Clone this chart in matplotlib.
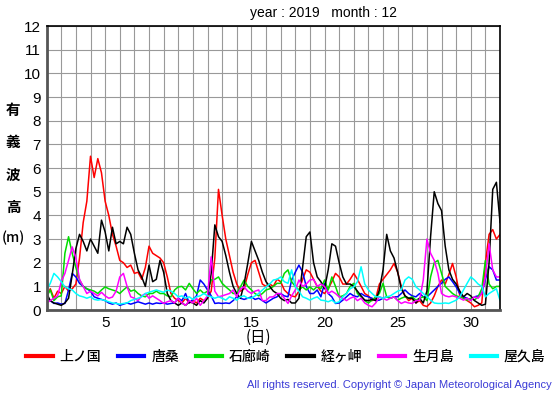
import matplotlib
matplotlib.use('Agg')
import matplotlib.pyplot as plt
import numpy as np

# significant wave height, December 2019, sampled every 6 hours (day 1.00 .. 32.00)
days = np.arange(1, 32.01, 0.25)

kaminokuni = [0.6, 0.9, 0.5, 0.8,  0.7, 1.0, 0.8, 0.9,  1.1, 2.2, 3.7, 4.6,  6.5, 5.6, 6.4, 5.8,
              4.6, 4.0, 3.2, 2.7,  2.1, 2.0, 1.8, 1.9,  1.55, 1.6, 1.3, 1.8,  2.7, 2.4, 2.3, 2.2,
              2.0, 1.4, 0.7, 0.5,  0.4, 0.3, 0.5, 0.3,  0.4, 0.3, 0.5, 0.4,  0.5, 0.8, 2.2, 5.1,
              4.0, 3.0, 2.3, 1.6,  1.1, 0.8, 0.9, 1.5,  2.0, 2.1, 1.6, 1.1,  1.0, 1.1, 1.0, 1.3,
              1.2, 0.85, 0.7, 0.6,  0.56, 0.8, 1.3, 1.7,  1.6, 1.3, 1.0, 0.8,  0.7, 0.9, 1.2, 1.55,
              1.4, 1.1, 1.1, 1.3,  1.55, 1.3, 1.0, 0.7,  0.6, 0.4, 0.5, 1.1,  1.3, 1.5, 1.7, 1.97,
              1.6, 1.0, 0.6, 0.4,  0.5, 0.3, 0.4, 0.2,  0.15, 0.3, 0.6, 1.0,  1.27, 1.1, 1.5, 1.97,
              1.4, 0.6, 0.5, 0.4,  0.3, 0.14, 0.2, 0.3,  2.0, 3.2, 3.4, 3.0,  3.2]
karakuwa = [0.56, 0.4, 0.28, 0.3,  0.25, 0.28, 0.85, 1.55,  1.4, 1.13, 1.0, 0.9,  0.8, 0.56, 0.5, 0.45,
            0.4, 0.3, 0.25, 0.3,  0.2, 0.25, 0.3, 0.25,  0.3, 0.35, 0.3, 0.25,  0.3, 0.25, 0.3, 0.28,
            0.3, 0.25, 0.28, 0.3,  0.5, 0.4, 0.7, 0.3,  0.45, 0.6, 1.27, 1.1,  0.85, 0.6, 0.28, 0.3,
            0.28, 0.3, 0.28, 0.4,  0.56, 0.5, 0.45, 0.5,  0.56, 0.45, 0.5, 0.4,  0.3, 0.4, 0.5, 0.56,
            0.7, 0.6, 0.56, 1.27,  1.6, 1.9, 1.6, 1.0,  0.7, 0.7, 0.85, 0.56,  1.13, 0.7, 0.56, 0.28,
            0.3, 0.42, 0.56, 0.7,  0.6, 0.56, 0.7, 0.6,  0.56, 0.5, 0.4, 0.42,  0.5, 0.56, 0.5, 0.56,
            0.56, 0.7, 0.85, 0.7,  0.6, 0.56, 0.7, 0.56,  0.56, 0.7, 0.85, 1.0,  1.13, 1.3, 1.4, 1.2,
            0.98, 0.7, 0.56, 0.5,  0.42, 0.56, 0.6, 0.7,  1.3, 1.83, 1.7, 1.27,  1.27]
irozaki = [0.56, 0.85, 0.4, 0.56,  0.6, 2.4, 3.1, 2.4,  1.8, 1.27, 1.0, 0.9,  0.85, 0.8, 0.7, 0.85,
           0.98, 0.9, 0.85, 0.8,  0.7, 0.85, 0.98, 0.8,  0.85, 0.7, 0.6, 0.56,  0.7, 0.7, 0.8, 0.7,
           0.7, 0.6, 0.56, 0.85,  0.98, 1.0, 0.85, 1.13,  0.9, 0.7, 0.85, 0.7,  0.8, 1.27, 1.3, 1.4,
           1.13, 0.98, 0.85, 0.7,  0.7, 0.98, 1.27, 1.0,  0.85, 0.7, 0.6, 0.7,  0.85, 0.9, 1.0, 1.13,
           1.13, 1.55, 1.7, 1.2,  1.0, 0.85, 0.98, 0.85,  0.98, 0.85, 1.0, 0.9,  1.27, 0.85, 1.4, 1.0,
           0.56, 0.6, 0.7, 1.0,  1.13, 0.7, 0.56, 0.4,  0.3, 0.42, 0.56, 0.7,  1.13, 0.56, 0.5, 0.56,
           0.42, 0.5, 0.56, 0.5,  0.56, 0.42, 0.5, 0.56,  0.4, 1.4, 2.0, 2.1,  1.55, 1.0, 0.85, 0.7,
           0.6, 0.56, 0.5, 0.42,  0.5, 0.42, 0.56, 0.9,  2.1, 1.1, 0.9, 1.0,  1.0]
kyougamisaki = [0.7, 0.4, 0.3, 0.25,  0.2, 0.3, 0.5, 1.5,  2.6, 3.2, 2.9, 2.5,  3.0, 2.7, 2.4, 3.8,
                3.3, 2.5, 3.5, 2.8,  2.9, 2.8, 3.5, 3.2,  2.4, 1.7, 1.4, 1.0,  1.9, 1.2, 1.3, 2.1,
                1.6, 0.7, 0.4, 0.3,  0.2, 0.3, 0.2, 0.35,  0.3, 0.2, 0.4, 0.3,  0.5, 1.55, 3.6, 3.1,
                2.9, 2.3, 1.6, 1.0,  0.7, 0.5, 1.1, 1.97,  2.9, 2.5, 2.1, 1.6,  1.2, 1.0, 0.8, 0.7,
                0.5, 0.4, 0.45, 0.3,  0.3, 0.5, 1.8, 3.1,  3.3, 2.0, 1.4, 1.2,  0.9, 1.7, 2.8, 2.7,
                2.0, 1.4, 1.1, 1.1,  1.0, 0.8, 0.6, 0.42,  0.4, 0.45, 0.4, 0.85,  1.7, 3.2, 2.5, 2.2,
                1.6, 0.9, 0.6, 0.5,  0.5, 0.3, 0.5, 0.3,  0.8, 3.1, 5.0, 4.5,  4.2, 2.7, 1.7, 1.3,
                1.1, 0.8, 0.56, 0.7,  0.6, 0.4, 0.3, 0.2,  0.25, 2.0, 5.1, 5.4,  3.7]
ikitsukishima = [0.3, 0.4, 0.5, 0.6,  1.2, 1.55, 2.1, 2.67,  2.2, 1.3, 1.0, 0.7,  0.8, 0.7, 0.6, 0.75,
                 0.6, 0.5, 0.55, 0.8,  1.4, 1.55, 1.0, 0.56,  0.5, 0.4, 0.6, 0.7,  0.5, 0.6, 0.5, 0.4,
                 0.28, 0.35, 0.4, 0.3,  0.5, 0.3, 0.2, 0.4,  0.3, 0.5, 0.2, 0.4,  0.6, 2.25, 0.8, 0.56,
                 0.6, 0.65, 0.7, 0.85,  0.56, 0.9, 0.98, 0.8,  0.7, 0.8, 0.85, 0.4,  0.4, 0.55, 0.56, 0.7,
                 0.7, 0.5, 0.28, 0.6,  0.85, 1.27, 1.0, 1.1,  1.27, 1.3, 1.0, 1.1,  1.0, 0.7, 0.8, 0.7,
                 0.56, 0.5, 0.4, 0.5,  0.56, 0.4, 0.5, 0.3,  0.2, 0.14, 0.3, 0.56,  0.5, 0.42, 0.5, 0.56,
                 0.4, 0.28, 0.35, 0.3,  0.28, 0.4, 0.42, 1.27,  3.0, 2.4, 2.1, 1.55,  0.7, 0.6, 0.56, 0.6,
                 0.56, 0.5, 0.42, 0.5,  0.4, 0.56, 0.5, 0.7,  1.4, 2.8, 1.7, 1.4,  1.4]
yakushima = [0.85, 1.13, 1.55, 1.4,  1.2, 0.98, 0.9, 0.85,  0.7, 0.6, 0.56, 0.5,  0.56, 0.45, 0.42, 0.45,
             0.4, 0.35, 0.3, 0.28,  0.25, 0.28, 0.3, 0.4,  0.45, 0.5, 0.56, 0.7,  0.75, 0.8, 0.85, 0.8,
             0.75, 0.85, 0.8, 0.7,  0.56, 0.6, 0.5, 0.56,  0.45, 0.56, 0.6, 0.7,  0.6, 0.56, 0.5, 0.56,
             0.5, 0.42, 0.56, 0.5,  0.42, 0.56, 0.6, 0.5,  0.5, 0.6, 0.7, 0.85,  0.98, 1.1, 1.27, 1.3,
             1.4, 1.2, 1.13, 1.7,  0.98, 0.8, 0.56, 0.5,  0.42, 0.5, 0.56, 0.42,  0.4, 0.35, 0.42, 0.3,
             0.35, 0.56, 0.7, 0.9,  0.98, 1.2, 1.83, 1.1,  0.85, 0.7, 0.56, 0.56,  0.5, 0.56, 0.6, 0.7,
             0.8, 0.85, 1.27, 1.4,  1.3, 0.98, 0.85, 0.7,  0.56, 0.42, 0.3, 0.28,  0.28, 0.3, 0.28, 0.35,
             0.42, 0.56, 0.85, 1.13,  1.4, 1.27, 1.1, 1.0,  0.56, 0.7, 0.8, 0.9,  0.4]

stations = ['上ノ国', '唐桑', '石廊崎', '経ヶ岬', '生月島', '屋久島']
series = [kaminokuni, karakuwa, irozaki, kyougamisaki, ikitsukishima, yakushima]
colors = ['#ff0000', '#0000ff', '#00dd00', '#000000', '#ff00ff', '#00ffff']

plt.rcParams['font.family'] = ['Liberation Sans', 'Noto Sans CJK JP', 'DejaVu Sans']
jp = ['Noto Sans CJK JP', 'DejaVu Sans']

fig = plt.figure(figsize=(5.55, 3.95), dpi=100)
ax = fig.add_axes([0.084, 0.215, 0.817, 0.719])

for vals, c, name in zip(series, colors, stations):
    ax.plot(days, vals, color=c, lw=1.1, label=name)

ax.set_xlim(1, 32)
ax.set_ylim(0, 12)
ax.set_xticks(np.arange(1, 33, 1), minor=True)
ax.set_xticks([5, 10, 15, 20, 25, 30])
ax.set_yticks(np.arange(0, 13, 1))
ax.grid(True, which='both', color='#999999', lw=0.8)
ax.tick_params(which='both', length=0, labelsize=11, pad=4)
for s in ['top', 'right']:
    ax.spines[s].set_color('black')
    ax.spines[s].set_linewidth(1.2)
for s in ['left', 'bottom']:
    ax.spines[s].set_color('#555555')
    ax.spines[s].set_linewidth(2)

fig.text(250/555, 1-13/395, 'year : 2019   month : 12', fontsize=10, va='center', ha='left')

for ch, yy in zip(['有', '義', '波', '高'], [110, 142, 175, 207]):
    fig.text(13/555, 1-yy/395, ch, family=jp, fontsize=10.5, weight='bold', ha='center', va='center')
fig.text(13/555, 1-238/395, '(m)', family=jp, fontsize=10, weight='medium', ha='center', va='center')

fig.text(258/555, 1-337/395, '(日)', family=jp, fontsize=11, ha='center', va='center')

leg = fig.legend(loc='center', bbox_to_anchor=(286/555, 1-357/395), ncol=6, frameon=False,
                 handlelength=1.9, handletextpad=0.5, columnspacing=1.2,
                 prop={'family': jp, 'size': 10, 'weight': 'medium'})
for h in leg.legend_handles:
    h.set_linewidth(3)

fig.text(552/555, 1-385/395, 'All rights reserved. Copyright © Japan Meteorological Agency',
         color='#3b3bd6', fontsize=8, ha='right', va='center')

fig.savefig('out.png', dpi=100)
